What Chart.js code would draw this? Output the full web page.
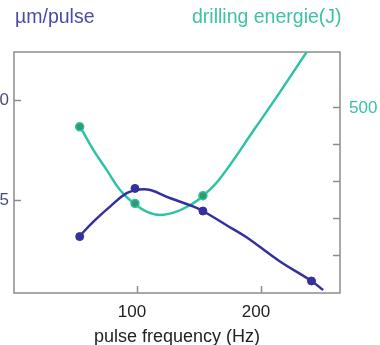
<!DOCTYPE html>
<html>
<head>
<meta charset="utf-8">
<script src="https://cdn.jsdelivr.net/npm/chart.js@4.4.1/dist/chart.umd.min.js"></script>
<style>
  html, body { margin: 0; padding: 0; background: #fff; }
  #wrap { position: relative; width: 380px; height: 345px; overflow: hidden; }
</style>
</head>
<body>
<div id="wrap"><canvas id="chart" width="380" height="345"></canvas></div>
<script>
// measured points
const depthFreq = [53, 97.6, 152.4, 240];
const depthValues = [3.17, 5.58, 4.45, 0.95];
const energyFreq = [53, 97.6, 152.4];
const energyValues = [449, 242, 263];

// fitted curves
const depthCurveFreq = [52.6, 64.1, 77.5, 90.9, 101, 110, 125.7, 144.4, 152.4, 171.2, 187.3, 214, 240, 249.4];
const depthCurve = [3.17, 3.92, 4.67, 5.34, 5.52, 5.5, 5.1, 4.68, 4.45, 3.75, 3.15, 1.95, 0.95, 0.5];
const energyCurveFreq = [53.4, 64.1, 74.9, 85.5, 94.9, 107, 117.7, 131.1, 144.4, 152.4, 165.9, 195.3, 214, 235.5, 244.6];
const energyCurve = [449, 386, 332, 278, 247, 220, 211, 220, 242, 262, 308, 449, 540, 648, 695];

// axis ticks
const freqTicks = [100, 200];
const depthTicks = [5, 10];
const energyTicks = [100, 200, 300, 400, 500];
const energyLabelled = [500];

const BLUE = "#35309a";
const TEAL = "#2fc3a3";
const AXIS = "#8c8c8c";
const FONT = '"Liberation Sans", Arial, sans-serif';

const pts = (xs, ys) => xs.map((x, i) => ({ x, y: ys[i] }));
const setTicks = list => scale => { scale.ticks = list.map(v => ({ value: v })); };

// box around the plot area
const framePlugin = {
  id: "frame",
  beforeDatasetsDraw(chart) {
    const { ctx, chartArea: a } = chart;
    ctx.save();
    ctx.strokeStyle = AXIS;
    ctx.lineWidth = 1.5;
    ctx.strokeRect(a.left, a.top, a.right - a.left, a.bottom - a.top);
    ctx.restore();
  }
};

// axis headings above the plot
const headingPlugin = {
  id: "headings",
  afterDraw(chart) {
    const ctx = chart.ctx;
    ctx.save();
    ctx.font = "19.5px " + FONT;
    ctx.textBaseline = "alphabetic";
    ctx.textAlign = "left";
    ctx.fillStyle = "#4c4aa8";
    ctx.fillText("µm/pulse", 15, 23);
    ctx.fillStyle = "#3cc2a4";
    ctx.fillText("drilling energie(J)", 192, 23);
    ctx.restore();
  }
};

new Chart(document.getElementById("chart"), {
  type: "line",
  data: {
    datasets: [
      {
        type: "scatter", data: pts(depthFreq, depthValues), yAxisID: "y",
        pointRadius: 4, pointBackgroundColor: BLUE, pointBorderColor: BLUE,
        pointBorderWidth: 1, showLine: false, order: 0
      },
      {
        type: "scatter", data: pts(energyFreq, energyValues), yAxisID: "y2",
        pointRadius: 4, pointBackgroundColor: "#2e9a72", pointBorderColor: TEAL,
        pointBorderWidth: 1.5, showLine: false, order: 1
      },
      {
        data: pts(depthCurveFreq, depthCurve), yAxisID: "y",
        borderColor: BLUE, borderWidth: 2.5, pointRadius: 0, tension: 0.4,
        fill: false, order: 2
      },
      {
        data: pts(energyCurveFreq, energyCurve), yAxisID: "y2",
        borderColor: TEAL, borderWidth: 2.5, pointRadius: 0, tension: 0.4,
        fill: false, order: 3
      }
    ]
  },
  options: {
    responsive: false,
    animation: false,
    devicePixelRatio: 1,
    layout: { padding: { top: 52, left: 0, right: 0, bottom: 0 } },
    plugins: { legend: { display: false }, tooltip: { enabled: false } },
    scales: {
      x: {
        type: "linear", position: "bottom", min: 0, max: 263,
        afterBuildTicks: setTicks(freqTicks),
        afterFit: s => { s.height = 52; },
        border: { display: false },
        grid: { drawOnChartArea: false, tickLength: -7, tickColor: AXIS, tickWidth: 1.5 },
        ticks: { font: { family: FONT, size: 17 }, color: "#222", padding: 16, labelOffset: -6, maxRotation: 0 },
        title: {
          display: true, text: "pulse frequency (Hz)", color: "#222",
          font: { family: FONT, size: 18, lineHeight: 1 }, padding: { top: 0, bottom: -1 }
        }
      },
      y: {
        type: "linear", position: "left", min: 0.35, max: 12.4,
        afterBuildTicks: setTicks(depthTicks),
        afterFit: s => { s.width = 14; },
        border: { display: false },
        grid: { drawOnChartArea: false, tickLength: -7, tickColor: AXIS, tickWidth: 1.5 },
        ticks: { font: { family: FONT, size: 17 }, color: "#4a4a80", padding: 12 }
      },
      y2: {
        type: "linear", position: "right", min: 0, max: 651,
        afterBuildTicks: setTicks(energyTicks),
        afterFit: s => { s.width = 40; },
        border: { display: false },
        grid: { drawOnChartArea: false, tickLength: -7, tickColor: AXIS, tickWidth: 1.5 },
        ticks: {
          font: { family: FONT, size: 17 }, color: "#3cc2a4", padding: 16,
          callback: v => energyLabelled.includes(v) ? String(v) : ""
        }
      }
    }
  },
  plugins: [framePlugin, headingPlugin]
});
</script>
</body>
</html>
